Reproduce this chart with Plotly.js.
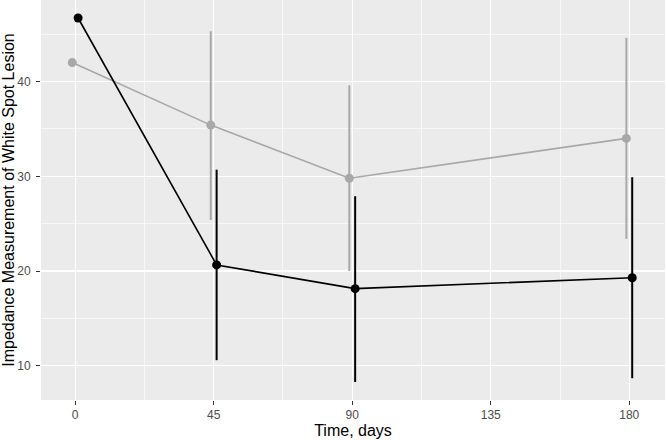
<!DOCTYPE html>
<html>
<head>
<meta charset="utf-8">
<script src="https://cdn.plot.ly/plotly-3.0.1.min.js"></script>
<style>html,body{margin:0;padding:0;background:#fff;}#chart{width:666px;height:440px;}</style>
</head>
<body>
<div id="chart"></div>
<script>
// Time points (days)
const days = [0, 45, 90, 180];

// Grey group: means and error bar limits
const greyMean  = [42.0, 35.4, 29.8, 34.0];
const greyLower = [null, 25.4, 20.0, 23.4];
const greyUpper = [null, 45.3, 39.6, 44.6];

// Black group: means and error bar limits
const blackMean  = [46.7, 20.65, 18.15, 19.3];
const blackLower = [null, 10.6, 8.3, 8.7];
const blackUpper = [null, 30.7, 27.9, 29.9];

const xTicks = [0, 45, 90, 135, 180];
const yTicks = [10, 20, 30, 40];

const dodge = 0.95;

function errs(mean, lo, hi) {
  return {
    type: 'data',
    symmetric: false,
    array: mean.map((m, i) => hi[i] == null ? 0 : hi[i] - m),
    arrayminus: mean.map((m, i) => lo[i] == null ? 0 : m - lo[i]),
    width: 0,
    thickness: 2,
    visible: true
  };
}

const grey = '#A8A8A8';
const black = '#000000';

const traces = [
  {
    x: days.map(d => d - dodge), y: greyMean, type: 'scatter', mode: 'lines+markers',
    line: {color: grey, width: 1.6},
    marker: {color: grey, size: 9},
    error_y: Object.assign(errs(greyMean, greyLower, greyUpper), {color: grey}),
    showlegend: false, hoverinfo: 'skip'
  },
  {
    x: days.map(d => d + dodge), y: blackMean, type: 'scatter', mode: 'lines+markers',
    line: {color: black, width: 1.6},
    marker: {color: black, size: 9},
    error_y: Object.assign(errs(blackMean, blackLower, blackUpper), {color: black}),
    showlegend: false, hoverinfo: 'skip'
  }
];

const layout = {
  width: 666, height: 440,
  margin: {l: 41, r: 1, t: 0, b: 40},
  paper_bgcolor: '#ffffff',
  plot_bgcolor: '#EBEBEB',
  font: {family: 'Liberation Sans, Arial, sans-serif', color: '#4D4D4D', size: 12},
  xaxis: {
    range: [-11.1, 191.6],
    tickmode: 'array', tickvals: xTicks, ticktext: xTicks.map(String),
    ticks: 'outside', ticklen: 4, tickwidth: 1, tickcolor: '#333333',
    showgrid: true, gridcolor: '#ffffff', gridwidth: 1.2,
    minor: {tickmode: 'array', tickvals: [22.5, 67.5, 112.5, 157.5], showgrid: true, gridcolor: '#ffffff', gridwidth: 0.6, ticks: ''},
    zeroline: false, showline: false,
    tickfont: {size: 12, color: '#4D4D4D'},
    title: {text: 'Time, days', font: {size: 16, color: '#000000'}, standoff: 3}
  },
  yaxis: {
    range: [6.4, 48.6],
    tickmode: 'array', tickvals: yTicks, ticktext: yTicks.map(String),
    ticks: 'outside', ticklen: 4, tickwidth: 1, tickcolor: '#333333',
    ticklabelstandoff: 3,
    showgrid: true, gridcolor: '#ffffff', gridwidth: 1.2,
    minor: {tickmode: 'array', tickvals: [15, 25, 35, 45], showgrid: true, gridcolor: '#ffffff', gridwidth: 0.6, ticks: ''},
    zeroline: false, showline: false,
    tickfont: {size: 12, color: '#4D4D4D'},
    title: {text: 'Impedance Measurement of White Spot Lesion', font: {size: 16, color: '#000000'}, standoff: 3}
  }
};

Plotly.newPlot('chart', traces, layout, {staticPlot: true, displayModeBar: false});
</script>
</body>
</html>
